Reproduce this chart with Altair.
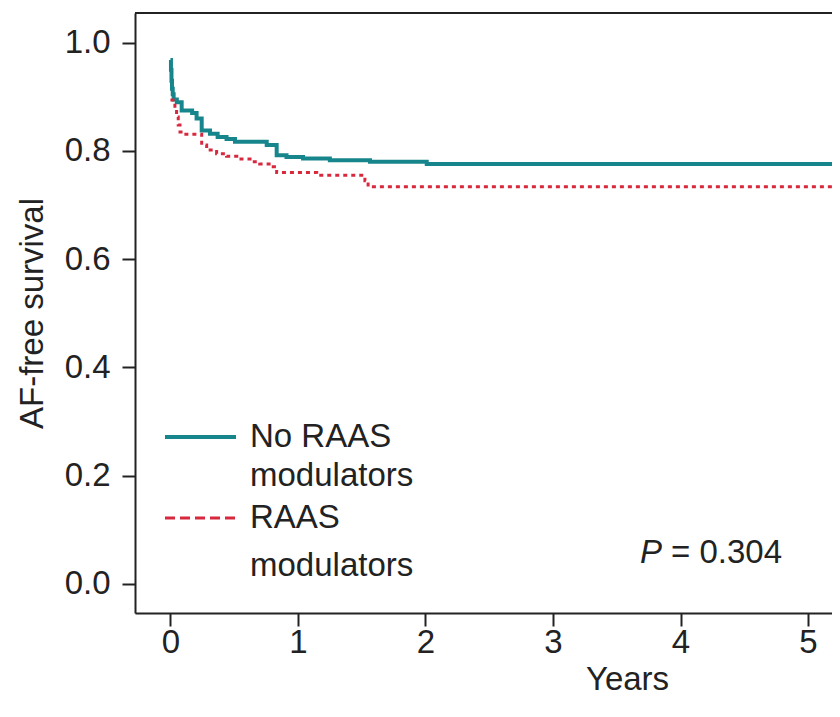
import altair as alt
import pandas as pd

# --- data (Kaplan-Meier step curves) ---
teal_years = [0.0, 0.004, 0.008, 0.012, 0.018, 0.025, 0.05, 0.088, 0.17, 0.205, 0.245,
              0.31, 0.37, 0.44, 0.506, 0.755, 0.833, 0.91, 1.04, 1.25, 1.565, 2.01, 5.4]
teal_surv = [0.968, 0.950, 0.930, 0.915, 0.905, 0.895, 0.890, 0.875, 0.870, 0.860, 0.838,
             0.832, 0.826, 0.822, 0.817, 0.811, 0.792, 0.789, 0.786, 0.783, 0.780, 0.776, 0.776]

red_years = [0.0, 0.035, 0.048, 0.061, 0.075, 0.10, 0.245, 0.284, 0.362, 0.44, 0.52,
             0.624, 0.70, 0.806, 0.833, 1.147, 1.525, 1.55, 5.4]
red_surv = [0.894, 0.879, 0.863, 0.848, 0.835, 0.831, 0.811, 0.802, 0.795, 0.790, 0.785,
            0.780, 0.776, 0.771, 0.760, 0.755, 0.745, 0.734, 0.734]

groups = ["No RAAS modulators", "RAAS modulators"]
colors = ["#17868c", "#d8283e"]
x_ticks = [0, 1, 2, 3, 4, 5]
y_ticks = [0.0, 0.2, 0.4, 0.6, 0.8, 1.0]

legend_lines = ["No RAAS", "modulators", "RAAS", "modulators"]
p_label = "P"
p_value = "= 0.304"

FONT = "Liberation Sans"
FS = 33
W, H = 697, 600
INK = "#222222"

df = pd.concat([
    pd.DataFrame({"years": teal_years, "surv": teal_surv, "group": groups[0]}),
    pd.DataFrame({"years": red_years, "surv": red_surv, "group": groups[1]}),
])

xscale = alt.Scale(domain=[-0.278, 5.188], nice=False, zero=False)
yscale = alt.Scale(domain=[-0.054, 1.055], nice=False, zero=False)

xaxis = alt.Axis(values=x_ticks, format="d", title="Years", grid=False,
                 domainColor=INK, domainWidth=2, tickColor=INK, tickWidth=2, tickSize=13,
                 labelFont=FONT, labelFontSize=FS, labelColor=INK, labelPadding=0,
                 titleFont=FONT, titleFontSize=FS, titleFontWeight="normal", titleColor=INK,
                 titlePadding=4, titleX=492)
yaxis = alt.Axis(values=y_ticks, format=".1f", title="AF-free survival", grid=False,
                 domainColor=INK, domainWidth=2, tickColor=INK, tickWidth=2, tickSize=13,
                 labelFont=FONT, labelFontSize=FS, labelColor=INK, labelPadding=12,
                 titleFont=FONT, titleFontSize=FS, titleFontWeight="normal", titleColor=INK,
                 titlePadding=15)

base = alt.Chart(df)

teal_line = base.transform_filter(alt.datum.group == groups[0]).mark_line(
    interpolate="step-after", strokeWidth=4, color=colors[0], clip=True
).encode(
    x=alt.X("years:Q", scale=xscale, axis=xaxis),
    y=alt.Y("surv:Q", scale=yscale, axis=yaxis),
)

red_line = base.transform_filter(alt.datum.group == groups[1]).mark_line(
    interpolate="step-after", strokeWidth=3, color=colors[1], strokeDash=[4, 4], clip=True
).encode(
    x=alt.X("years:Q", scale=xscale),
    y=alt.Y("surv:Q", scale=yscale),
)

# top frame line
top_rule = alt.Chart(pd.DataFrame({"a": [0]})).mark_rule(color=INK, strokeWidth=2).encode(
    x=alt.value(0), x2=alt.value(W), y=alt.value(0)
)

# manual legend (annotation)
leg_sym = pd.DataFrame({"group": groups})
leg_teal = alt.Chart(leg_sym.iloc[[0]]).mark_rule(color=colors[0], strokeWidth=4).encode(
    x=alt.value(30), x2=alt.value(101), y=alt.value(424)
)
leg_red = alt.Chart(leg_sym.iloc[[1]]).mark_rule(color=colors[1], strokeWidth=3,
                                                 strokeDash=[10, 5]).encode(
    x=alt.value(30), x2=alt.value(101), y=alt.value(505)
)
leg_text_rows = []
for txt, ypx in zip(legend_lines, [424, 463, 505, 553]):
    leg_text_rows.append(
        alt.Chart(pd.DataFrame({"t": [txt]})).mark_text(
            align="left", baseline="middle", font=FONT, fontSize=FS, color=INK
        ).encode(text="t:N", x=alt.value(115), y=alt.value(ypx))
    )

p_text = alt.Chart(pd.DataFrame({"t": [p_label]})).mark_text(
    align="left", baseline="middle", font=FONT, fontSize=FS, fontStyle="italic", color=INK
).encode(text="t:N", x=alt.value(505), y=alt.value(540))
v_text = alt.Chart(pd.DataFrame({"t": [p_value]})).mark_text(
    align="left", baseline="middle", font=FONT, fontSize=FS, color=INK
).encode(text="t:N", x=alt.value(536), y=alt.value(540))

chart = alt.layer(
    teal_line, red_line, top_rule, leg_teal, leg_red, *leg_text_rows, p_text, v_text
).properties(
    width=W, height=H,
    autosize=alt.AutoSizeParams(type="none"),
    padding={"left": 127, "top": 5, "right": 0, "bottom": 95},
).configure_view(stroke=None).configure(background="white")

chart.save("out.html", embed_options={"renderer": "svg", "actions": False})
